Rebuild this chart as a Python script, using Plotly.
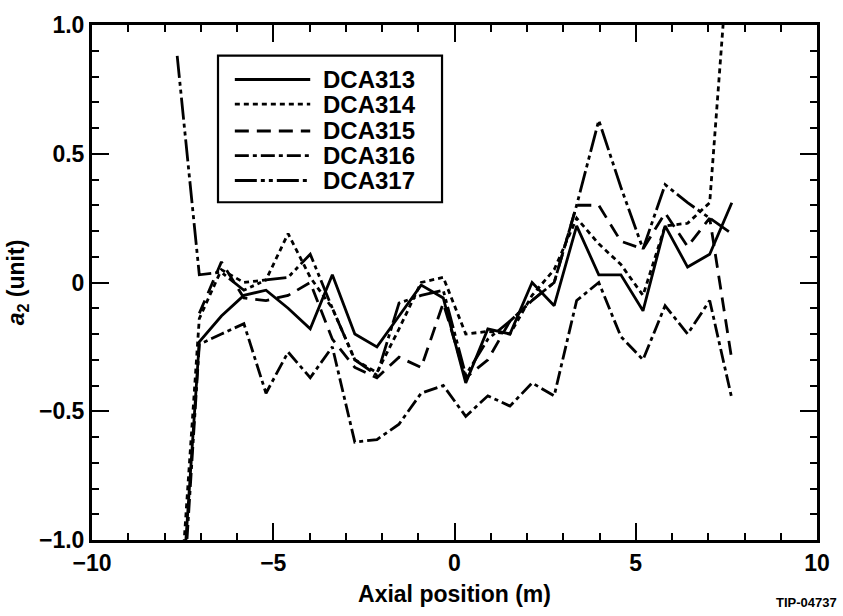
import plotly.graph_objects as go

x_pos = [-7.65, -7.04, -6.43, -5.81, -5.20, -4.59, -3.98, -3.37, -2.75, -2.14, -1.53, -0.92, -0.31,
         0.31, 0.92, 1.53, 2.14, 2.75, 3.37, 3.98, 4.59, 5.20, 5.81, 6.43, 7.04, 7.65]

dca313 = [-1.5, -0.23, -0.13, -0.05, -0.03, -0.10, -0.18, 0.03, -0.20, -0.25, -0.13, -0.01, -0.06,
          -0.39, -0.18, -0.20, 0.00, -0.09, 0.22, 0.03, 0.03, -0.11, 0.22, 0.06, 0.11, 0.31]
dca314 = [-1.4, -0.14, 0.05, 0.00, 0.01, 0.19, 0.02, -0.10, -0.30, -0.35, -0.18, 0.00, 0.02,
          -0.20, -0.19, -0.20, -0.05, 0.05, 0.25, 0.15, 0.07, -0.05, 0.22, 0.23, 0.31, 1.45]
dca315 = [None, -0.12, 0.08, -0.06, -0.07, -0.05, 0.00, -0.22, -0.33, -0.37, -0.29, -0.33, -0.08,
          -0.37, -0.30, -0.15, -0.07, 0.00, 0.30, 0.30, 0.16, 0.13, 0.27, 0.14, 0.25, -0.30]
dca316 = [-1.6, -0.24, -0.20, -0.16, -0.43, -0.27, -0.37, -0.25, -0.62, -0.61, -0.55, -0.43, -0.40,
          -0.52, -0.44, -0.48, -0.39, -0.44, -0.07, 0.00, -0.21, -0.30, -0.09, -0.20, -0.07, -0.45]
dca317 = [0.88, 0.03, 0.04, -0.03, 0.01, 0.02, 0.11, -0.10, -0.30, -0.36, -0.08, -0.05, -0.03,
          -0.36, -0.22, -0.15, -0.07, 0.00, 0.30, 0.63, 0.37, 0.13, 0.38, 0.31, 0.25, 0.19]

names = ["DCA313", "DCA314", "DCA315", "DCA316", "DCA317"]
values = [dca313, dca314, dca315, dca316, dca317]
dashes = ["solid", "5px,4px", "14px,8px", "14px,4px,4px,4px", "22px,4px,4px,4px,4px,4px"]

y_tickvals = [-1.0, -0.5, 0, 0.5, 1.0]
y_ticktext = ["\u22121.0", "\u22120.5", "0", "0.5", "1.0"]
x_tickvals = [-10, -5, 0, 5, 10]
x_ticktext = ["\u221210", "\u22125", "0", "5", "10"]

font = "Liberation Sans, Arial, sans-serif"
LW = 2.8

fig = go.Figure()
for name, vals, dash in zip(names, values, dashes):
    fig.add_trace(go.Scatter(x=x_pos, y=vals, mode="lines", name=name, showlegend=False,
                             line=dict(color="black", width=LW, dash=dash)))

# legend drawn as a boxed key (paper coordinates)
L_X0, L_X1, L_Y0, L_Y1 = 0.1738, 0.4828, 0.6558, 0.9404
fig.add_shape(type="rect", xref="paper", yref="paper", x0=L_X0, x1=L_X1, y0=L_Y0, y1=L_Y1,
              line=dict(color="black", width=2.2), fillcolor="white", layer="above")
row_y = [0.8942, 0.8462, 0.7942, 0.7462, 0.6981]
for name, dash, ry in zip(names, dashes, row_y):
    fig.add_shape(type="line", xref="paper", yref="paper", x0=0.197, x1=0.301, y0=ry, y1=ry,
                  line=dict(color="black", width=LW, dash=dash), layer="above")
    fig.add_annotation(text=name, xref="paper", yref="paper", x=0.316, y=ry, xanchor="left",
                       yanchor="middle", showarrow=False,
                       font=dict(size=24, family=font, weight="bold", color="black"))

fig.update_layout(
    width=843, height=616,
    margin=dict(l=92, r=26, t=21, b=75),
    paper_bgcolor="white", plot_bgcolor="white",
    font=dict(family=font, color="black", size=22, weight="bold"),
    showlegend=False,
    xaxis=dict(range=[-10, 10], tickvals=x_tickvals, ticktext=x_ticktext,
               showline=True, linecolor="black", linewidth=3, mirror="allticks",
               ticks="inside", ticklen=17, tickwidth=2.2, tickcolor="black",
               minor=dict(dtick=1, ticks="inside", ticklen=7, tickwidth=1.5, tickcolor="black"),
               showgrid=False, zeroline=False,
               title=dict(text="Axial position (m)", font=dict(size=23, family=font, weight="bold"), standoff=12),
               tickfont=dict(size=23, family=font, weight="bold")),
    yaxis=dict(range=[-1, 1], tickvals=y_tickvals, ticktext=y_ticktext,
               showline=True, linecolor="black", linewidth=3, mirror="allticks",
               ticks="inside", ticklen=17, tickwidth=2.2, tickcolor="black",
               minor=dict(dtick=0.1, ticks="inside", ticklen=7, tickwidth=1.5, tickcolor="black"),
               showgrid=False, zeroline=False,
               title=dict(text="<i>a</i><sub>2</sub> (unit)", font=dict(size=23, family=font, weight="bold"), standoff=8),
               tickfont=dict(size=23, family=font, weight="bold")),
)
fig.add_annotation(text="TIP-04737", xref="paper", yref="paper", x=1.031, y=-0.1404,
                   xanchor="right", yanchor="bottom", showarrow=False,
                   font=dict(size=13, family=font, weight="bold"))
fig.write_html("out.html")
